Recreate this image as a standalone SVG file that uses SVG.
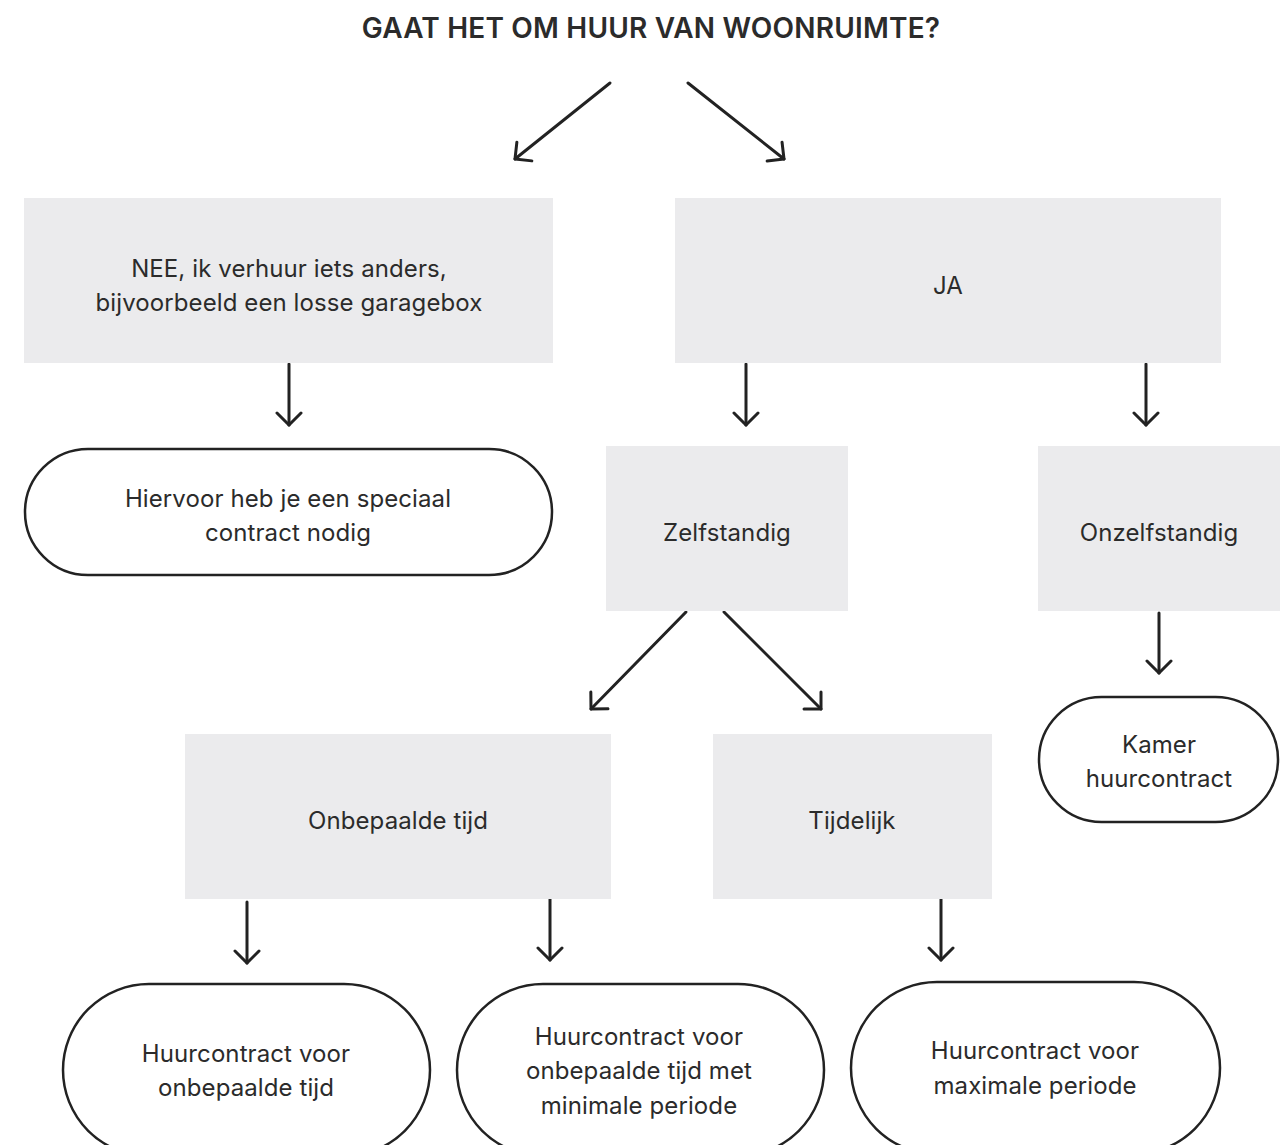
<svg xmlns="http://www.w3.org/2000/svg" width="1287" height="1145" viewBox="0 0 1287 1145">
<style>
.box{fill:#ebebed;stroke:none}
.pill{fill:#ffffff;stroke:#222;stroke-width:2.5}
.t{font-family:Inter,"Liberation Sans",sans-serif;font-size:24px;fill:#2b2b2b;text-anchor:middle;letter-spacing:0.1px}
.title{font-family:Inter,"Liberation Sans",sans-serif;font-size:28px;font-weight:600;fill:#2b2b2b;text-anchor:middle;letter-spacing:0.2px}
.c{fill:none;stroke:#222;stroke-width:3;stroke-linecap:round;marker-end:url(#ah)}
</style>
<defs>
<marker id="ah" viewBox="-14 -14 16 28" refX="0" refY="0" markerWidth="16" markerHeight="28" markerUnits="userSpaceOnUse" orient="auto">
<path d="M-12,-12 L0,0 L-12,12" fill="none" stroke="#222" stroke-width="3" stroke-linecap="round" stroke-linejoin="round"/>
</marker>
</defs>
<rect width="1287" height="1145" fill="#ffffff"/>
<text class="title" x="651" y="38">GAAT HET OM HUUR VAN WOONRUIMTE?</text>
<g id="connectors">
<path class="c" d="M610,83 L515,159"/>
<path class="c" d="M688,83 L784,159"/>
<path class="c" d="M289,364 L289,425"/>
<path class="c" d="M746,364 L746,425"/>
<path class="c" d="M1146,364 L1146,425"/>
<path class="c" d="M686,612 L591,709"/>
<path class="c" d="M724,612 L821,709"/>
<path class="c" d="M1159,613 L1159,673"/>
<path class="c" d="M247,902 L247,963"/>
<path class="c" d="M550,898 L550,960"/>
<path class="c" d="M941,898 L941,960"/>
</g>
<g id="nee">
<rect class="box" x="24" y="198" width="529" height="165"/>
<text class="t" x="289" y="277">NEE, ik verhuur iets anders,</text>
<text class="t" x="289" y="311">bijvoorbeeld een losse garagebox</text>
</g>
<g id="ja">
<rect class="box" x="675" y="198" width="546" height="165"/>
<text class="t" x="948" y="294">JA</text>
</g>
<g id="speciaal">
<rect class="pill" x="25" y="449" width="527" height="126" rx="63"/>
<text class="t" x="288" y="507">Hiervoor heb je een speciaal</text>
<text class="t" x="288" y="541">contract nodig</text>
</g>
<g id="zelfstandig">
<rect class="box" x="606" y="446" width="242" height="165"/>
<text class="t" x="727" y="541">Zelfstandig</text>
</g>
<g id="onzelfstandig">
<rect class="box" x="1038" y="446" width="242" height="165"/>
<text class="t" x="1159" y="541">Onzelfstandig</text>
</g>
<g id="kamer">
<rect class="pill" x="1039" y="697" width="239" height="125" rx="62.5"/>
<text class="t" x="1159" y="753">Kamer</text>
<text class="t" x="1159" y="787">huurcontract</text>
</g>
<g id="onbepaalde">
<rect class="box" x="185" y="734" width="426" height="165"/>
<text class="t" x="398" y="829">Onbepaalde tijd</text>
</g>
<g id="tijdelijk">
<rect class="box" x="713" y="734" width="279" height="165"/>
<text class="t" x="852" y="829">Tijdelijk</text>
</g>
<g id="hc-onbepaald">
<rect class="pill" x="63" y="984" width="367" height="172" rx="86"/>
<text class="t" x="246" y="1062">Huurcontract voor</text>
<text class="t" x="246" y="1096">onbepaalde tijd</text>
</g>
<g id="hc-minimaal">
<rect class="pill" x="457" y="984" width="367" height="172" rx="86"/>
<text class="t" x="639" y="1045">Huurcontract voor</text>
<text class="t" x="639" y="1079">onbepaalde tijd met</text>
<text class="t" x="639" y="1114">minimale periode</text>
</g>
<g id="hc-maximaal">
<rect class="pill" x="851" y="982" width="369" height="172" rx="86"/>
<text class="t" x="1035" y="1059">Huurcontract voor</text>
<text class="t" x="1035" y="1094">maximale periode</text>
</g>
</svg>
